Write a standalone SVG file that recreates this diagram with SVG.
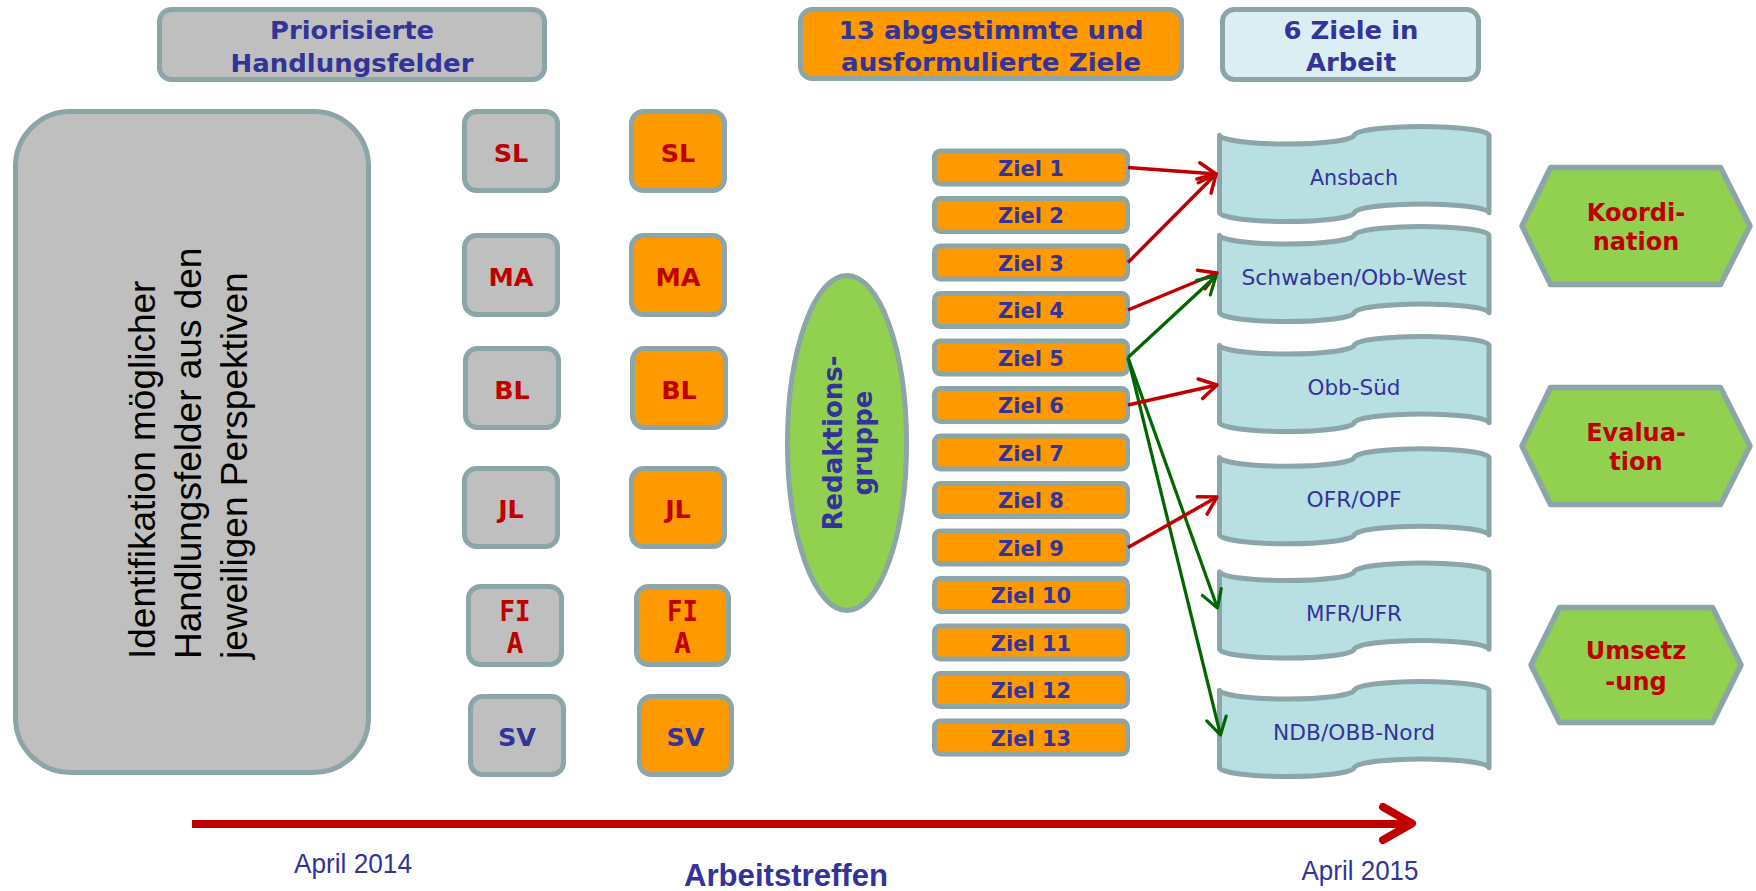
<svg xmlns="http://www.w3.org/2000/svg" width="1756" height="891" viewBox="0 0 1756 891">
<defs>
<style>
.bx{stroke:#8BA5A8;stroke-width:5}
.gray{fill:#BFBFBF}
.org{fill:#FF9900}
.lb{fill:#DBEEF3}
.flag{fill:#B8DFE2;stroke:#8BA5A8;stroke-width:5;stroke-linejoin:round}
.hex{fill:#92D050;stroke:#8BA5A8;stroke-width:5.5;stroke-linejoin:round}
.v{font-family:"DejaVu Sans",Verdana,sans-serif;font-weight:bold;text-anchor:middle}
.vr{font-family:"DejaVu Sans",Verdana,sans-serif;text-anchor:middle;fill:#333399;font-size:21px}
.mono{font-family:"DejaVu Sans Mono","Liberation Mono",monospace;font-weight:bold;text-anchor:middle;fill:#C00000;font-size:28px}
.blue{fill:#333399}
.red{fill:#C00000}
.hd{font-size:25.5px}
.lab{font-size:25.5px}
.ziel{font-size:21px;fill:#333399}
.hx{font-size:24px;fill:#C00000}
.ar{font-family:"Liberation Sans",Arial,sans-serif}
.cr{fill:none;stroke:#C00000;stroke-width:3.5}
.cg{fill:none;stroke:#006600;stroke-width:3.2}
</style>
<marker id="mr" viewBox="-22 -14 26 28" refX="0" refY="0" markerWidth="26" markerHeight="28" markerUnits="userSpaceOnUse" orient="auto">
<path d="M-17,-10 L0,0 L-17,10" fill="none" stroke="#C00000" stroke-width="3.5" stroke-linecap="round" stroke-linejoin="round"/>
</marker>
<marker id="mg" viewBox="-22 -14 26 28" refX="0" refY="0" markerWidth="26" markerHeight="28" markerUnits="userSpaceOnUse" orient="auto">
<path d="M-17,-10 L0,0 L-17,10" fill="none" stroke="#006600" stroke-width="3.2" stroke-linecap="round" stroke-linejoin="round"/>
</marker>
</defs>
<rect width="1756" height="891" fill="#FFFFFF"/>

<!-- headers -->
<g id="hdr-priorisierte">
<rect class="bx gray" x="159.5" y="9.5" width="385" height="70" rx="12"/>
<text class="v blue hd" x="352" y="38.5" textLength="164" lengthAdjust="spacingAndGlyphs">Priorisierte</text>
<text class="v blue hd" x="352" y="71.5" textLength="243" lengthAdjust="spacingAndGlyphs">Handlungsfelder</text>
</g>
<g id="hdr-ziele13">
<rect class="bx org" x="800.5" y="9.5" width="381" height="69" rx="12"/>
<text class="v blue hd" x="991" y="39" textLength="305" lengthAdjust="spacingAndGlyphs">13 abgestimmte und</text>
<text class="v blue hd" x="991" y="71" textLength="300" lengthAdjust="spacingAndGlyphs">ausformulierte Ziele</text>
</g>
<g id="hdr-ziele6">
<rect class="bx lb" x="1222.5" y="9.5" width="256" height="70" rx="12"/>
<text class="v blue hd" x="1351" y="39" textLength="135" lengthAdjust="spacingAndGlyphs">6 Ziele in</text>
<text class="v blue hd" x="1351" y="71" textLength="90" lengthAdjust="spacingAndGlyphs">Arbeit</text>
</g>

<!-- big left box -->
<g id="identifikation">
<rect class="bx gray" x="15.5" y="111.5" width="353" height="661" rx="55"/>
<g class="ar" font-size="37" fill="#000000">
<text transform="translate(155,659) rotate(-90)">Identifikation möglicher</text>
<text transform="translate(201,659) rotate(-90)">Handlungsfelder aus den</text>
<text transform="translate(247,659) rotate(-90)">jeweiligen Perspektiven</text>
</g>
</g>

<!-- gray column -->
<g id="g-sl"><rect class="bx gray" x="464.5" y="111.5" width="93" height="79" rx="12"/><text class="v red lab" x="511" y="161.5">SL</text></g>
<g id="g-ma"><rect class="bx gray" x="464.5" y="235.5" width="93" height="79" rx="12"/><text class="v red lab" x="511" y="285.5">MA</text></g>
<g id="g-bl"><rect class="bx gray" x="465.5" y="348.5" width="93" height="79" rx="12"/><text class="v red lab" x="512" y="398.5">BL</text></g>
<g id="g-jl"><rect class="bx gray" x="464.5" y="468.5" width="93" height="78" rx="12"/><text class="v red lab" x="511" y="518">JL</text></g>
<g id="g-fia"><rect class="bx gray" x="468.5" y="586.5" width="93" height="78" rx="12"/><text class="mono" x="515" y="621" textLength="31" lengthAdjust="spacingAndGlyphs">FI</text><text class="mono" x="515" y="653">A</text></g>
<g id="g-sv"><rect class="bx gray" x="470.5" y="696.5" width="93" height="78" rx="12"/><text class="v blue lab" x="517" y="746">SV</text></g>

<!-- orange column -->
<g id="o-sl"><rect class="bx org" x="631.5" y="111.5" width="93" height="79" rx="12"/><text class="v red lab" x="678" y="161.5">SL</text></g>
<g id="o-ma"><rect class="bx org" x="631.5" y="235.5" width="93" height="79" rx="12"/><text class="v red lab" x="678" y="285.5">MA</text></g>
<g id="o-bl"><rect class="bx org" x="632.5" y="348.5" width="93" height="79" rx="12"/><text class="v red lab" x="679" y="398.5">BL</text></g>
<g id="o-jl"><rect class="bx org" x="631.5" y="468.5" width="93" height="78" rx="12"/><text class="v red lab" x="678" y="518">JL</text></g>
<g id="o-fia"><rect class="bx org" x="636.5" y="586.5" width="92" height="78" rx="12"/><text class="mono" x="682.5" y="621" textLength="31" lengthAdjust="spacingAndGlyphs">FI</text><text class="mono" x="682.5" y="653">A</text></g>
<g id="o-sv"><rect class="bx org" x="639.5" y="696.5" width="92" height="78" rx="12"/><text class="v blue lab" x="685.5" y="746">SV</text></g>

<!-- Redaktionsgruppe -->
<g id="redaktionsgruppe">
<ellipse cx="847" cy="443" rx="59.5" ry="167.5" fill="#92D050" stroke="#8BA5A8" stroke-width="5"/>
<text class="v blue" font-size="26" transform="translate(842,443) rotate(-90)">Redaktions-</text>
<text class="v blue" font-size="26" transform="translate(872,443) rotate(-90)">gruppe</text>
</g>

<!-- Ziel boxes -->
<g id="ziel1"><rect class="bx org" x="934.5" y="151" width="193" height="33" rx="6"/><text class="v ziel" x="1031" y="175.5">Ziel 1</text></g>
<g id="ziel2"><rect class="bx org" x="934.5" y="198.5" width="193" height="33" rx="6"/><text class="v ziel" x="1031" y="223">Ziel 2</text></g>
<g id="ziel3"><rect class="bx org" x="934.5" y="246" width="193" height="33" rx="6"/><text class="v ziel" x="1031" y="270.5">Ziel 3</text></g>
<g id="ziel4"><rect class="bx org" x="934.5" y="293.5" width="193" height="33" rx="6"/><text class="v ziel" x="1031" y="318">Ziel 4</text></g>
<g id="ziel5"><rect class="bx org" x="934.5" y="341" width="193" height="33" rx="6"/><text class="v ziel" x="1031" y="365.5">Ziel 5</text></g>
<g id="ziel6"><rect class="bx org" x="934.5" y="388.5" width="193" height="33" rx="6"/><text class="v ziel" x="1031" y="413">Ziel 6</text></g>
<g id="ziel7"><rect class="bx org" x="934.5" y="436" width="193" height="33" rx="6"/><text class="v ziel" x="1031" y="460.5">Ziel 7</text></g>
<g id="ziel8"><rect class="bx org" x="934.5" y="483.5" width="193" height="33" rx="6"/><text class="v ziel" x="1031" y="508">Ziel 8</text></g>
<g id="ziel9"><rect class="bx org" x="934.5" y="531" width="193" height="33" rx="6"/><text class="v ziel" x="1031" y="555.5">Ziel 9</text></g>
<g id="ziel10"><rect class="bx org" x="934.5" y="578.5" width="193" height="33" rx="6"/><text class="v ziel" x="1031" y="603">Ziel 10</text></g>
<g id="ziel11"><rect class="bx org" x="934.5" y="626" width="193" height="33" rx="6"/><text class="v ziel" x="1031" y="650.5">Ziel 11</text></g>
<g id="ziel12"><rect class="bx org" x="934.5" y="673.5" width="193" height="33" rx="6"/><text class="v ziel" x="1031" y="698">Ziel 12</text></g>
<g id="ziel13"><rect class="bx org" x="934.5" y="721" width="193" height="33" rx="6"/><text class="v ziel" x="1031" y="745.5">Ziel 13</text></g>

<!-- region flags -->
<g id="ansbach"><path class="flag" d="M1219.5,135.2 A67.4,9 0 0 0 1354.25,135.2 A67.4,9 0 0 1 1489,135.2 L1489,212.7 A67.4,9 0 0 0 1354.25,212.7 A67.4,9 0 0 1 1219.5,212.7 Z"/><text class="vr" x="1354" y="184.7" textLength="88" lengthAdjust="spacingAndGlyphs">Ansbach</text></g>
<g id="schwaben"><path class="flag" d="M1219.5,235.2 A67.4,9 0 0 0 1354.25,235.2 A67.4,9 0 0 1 1489,235.2 L1489,312.7 A67.4,9 0 0 0 1354.25,312.7 A67.4,9 0 0 1 1219.5,312.7 Z"/><text class="vr" x="1354" y="284.7" textLength="225" lengthAdjust="spacingAndGlyphs">Schwaben/Obb-West</text></g>
<g id="obbsued"><path class="flag" d="M1219.5,345.2 A67.4,9 0 0 0 1354.25,345.2 A67.4,9 0 0 1 1489,345.2 L1489,422.7 A67.4,9 0 0 0 1354.25,422.7 A67.4,9 0 0 1 1219.5,422.7 Z"/><text class="vr" x="1354" y="394.7" textLength="93" lengthAdjust="spacingAndGlyphs">Obb-Süd</text></g>
<g id="ofr"><path class="flag" d="M1219.5,457.5 A67.4,9 0 0 0 1354.25,457.5 A67.4,9 0 0 1 1489,457.5 L1489,535 A67.4,9 0 0 0 1354.25,535 A67.4,9 0 0 1 1219.5,535 Z"/><text class="vr" x="1354" y="507" textLength="95" lengthAdjust="spacingAndGlyphs">OFR/OPF</text></g>
<g id="mfr"><path class="flag" d="M1219.5,571.8 A67.4,9 0 0 0 1354.25,571.8 A67.4,9 0 0 1 1489,571.8 L1489,649.3 A67.4,9 0 0 0 1354.25,649.3 A67.4,9 0 0 1 1219.5,649.3 Z"/><text class="vr" x="1354" y="621.3" textLength="96" lengthAdjust="spacingAndGlyphs">MFR/UFR</text></g>
<g id="ndb"><path class="flag" d="M1219.5,690.2 A67.4,9 0 0 0 1354.25,690.2 A67.4,9 0 0 1 1489,690.2 L1489,767.7 A67.4,9 0 0 0 1354.25,767.7 A67.4,9 0 0 1 1219.5,767.7 Z"/><text class="vr" x="1354" y="739.7" textLength="162" lengthAdjust="spacingAndGlyphs">NDB/OBB-Nord</text></g>

<!-- hexagons -->
<g id="koordination"><polygon class="hex" points="1522,226 1550.5,167.5 1720.5,167.5 1750,226 1720.5,284.5 1550.5,284.5"/><text class="v hx" x="1636" y="220.7">Koordi-</text><text class="v hx" x="1636" y="250">nation</text></g>
<g id="evaluation"><polygon class="hex" points="1522,446 1550.5,387.5 1720.5,387.5 1750,446 1720.5,504.5 1550.5,504.5"/><text class="v hx" x="1636" y="440.7">Evalua-</text><text class="v hx" x="1636" y="470">tion</text></g>
<g id="umsetzung"><polygon class="hex" points="1531,665 1559.5,607.5 1712.5,607.5 1741,665 1712.5,722.5 1559.5,722.5"/><text class="v hx" font-size="26" x="1636" y="659.3">Umsetz</text><text class="v hx" font-size="26" x="1636" y="690">-ung</text></g>

<!-- connectors -->
<g id="connectors">
<line class="cr" x1="1128" y1="167.5" x2="1216" y2="174" marker-end="url(#mr)"/>
<line class="cr" x1="1128" y1="262.5" x2="1216" y2="174" marker-end="url(#mr)"/>
<line class="cr" x1="1128" y1="310" x2="1217" y2="273" marker-end="url(#mr)"/>
<line class="cg" x1="1128" y1="357.5" x2="1216" y2="276" marker-end="url(#mg)"/>
<line class="cg" x1="1128" y1="357.5" x2="1217.5" y2="608" marker-end="url(#mg)"/>
<line class="cg" x1="1128" y1="357.5" x2="1220.5" y2="735" marker-end="url(#mg)"/>
<line class="cr" x1="1128" y1="405" x2="1217" y2="385" marker-end="url(#mr)"/>
<line class="cr" x1="1128" y1="547.5" x2="1217" y2="497" marker-end="url(#mr)"/>
</g>

<!-- timeline -->
<g id="timeline">
<line x1="192" y1="824" x2="1410" y2="824" stroke="#C00000" stroke-width="8"/>
<polyline points="1383,807 1412,823.5 1383,840" fill="none" stroke="#C00000" stroke-width="8" stroke-linecap="round" stroke-linejoin="round"/>
<text class="ar" x="353" y="873" font-size="27" fill="#333399" text-anchor="middle" textLength="118" lengthAdjust="spacingAndGlyphs">April 2014</text>
<text class="ar" x="1360" y="880" font-size="27" fill="#333399" text-anchor="middle" textLength="117" lengthAdjust="spacingAndGlyphs">April 2015</text>
<text class="ar" x="786" y="886" font-size="32" font-weight="bold" fill="#333399" text-anchor="middle" textLength="204" lengthAdjust="spacingAndGlyphs">Arbeitstreffen</text>
</g>
</svg>
